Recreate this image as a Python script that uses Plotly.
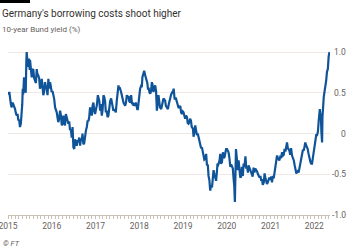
import plotly.graph_objects as go

dates_2015 = ["2015-01-02", "2015-01-07", "2015-01-12", "2015-01-18", "2015-01-25", "2015-02-01", "2015-02-07",
              "2015-02-14", "2015-02-21", "2015-03-01", "2015-03-08", "2015-03-15", "2015-03-22", "2015-03-28",
              "2015-04-04", "2015-04-11", "2015-04-18", "2015-04-26", "2015-04-30", "2015-05-04", "2015-05-08",
              "2015-05-15", "2015-05-23", "2015-05-29", "2015-06-03", "2015-06-06", "2015-06-10", "2015-06-15",
              "2015-06-20", "2015-06-26", "2015-07-01", "2015-07-04", "2015-07-10", "2015-07-18", "2015-07-24",
              "2015-07-31", "2015-08-07", "2015-08-15", "2015-08-22", "2015-08-29", "2015-09-05", "2015-09-11",
              "2015-09-18", "2015-09-25", "2015-10-02", "2015-10-10", "2015-10-16", "2015-10-23", "2015-10-30",
              "2015-11-06", "2015-11-13", "2015-11-20", "2015-11-27", "2015-12-04", "2015-12-11", "2015-12-18",
              "2015-12-24"]
yields_2015 = [0.51, 0.48, 0.51, 0.40, 0.36, 0.32, 0.38,
               0.36, 0.34, 0.30, 0.25, 0.22, 0.24, 0.16,
               0.17, 0.08, 0.12, 0.26, 0.36, 0.55, 0.48,
               0.69, 0.57, 0.50, 0.88, 1.00, 0.92, 0.82,
               0.83, 0.92, 0.78, 0.90, 0.78, 0.69, 0.78,
               0.79, 0.68, 0.63, 0.62, 0.79, 0.70, 0.71,
               0.68, 0.55, 0.58, 0.67, 0.55, 0.47, 0.52,
               0.63, 0.58, 0.55, 0.47, 0.67, 0.55, 0.63,
               0.58]

dates_2016 = ["2016-01-01", "2016-01-08", "2016-01-15", "2016-01-22", "2016-01-29", "2016-02-05", "2016-02-12",
              "2016-02-18", "2016-02-25", "2016-03-03", "2016-03-11", "2016-03-18", "2016-03-25", "2016-04-01",
              "2016-04-07", "2016-04-14", "2016-04-21", "2016-04-28", "2016-05-06", "2016-05-12", "2016-05-19",
              "2016-05-26", "2016-06-02", "2016-06-09", "2016-06-16", "2016-06-23", "2016-06-30", "2016-07-07",
              "2016-07-14", "2016-07-21", "2016-07-28", "2016-08-04", "2016-08-11", "2016-08-18", "2016-08-25",
              "2016-09-01", "2016-09-08", "2016-09-14", "2016-09-21", "2016-09-28", "2016-10-06", "2016-10-13",
              "2016-10-20", "2016-10-27", "2016-11-02", "2016-11-09", "2016-11-16", "2016-11-23", "2016-12-01",
              "2016-12-07", "2016-12-14", "2016-12-21", "2016-12-28"]
yields_2016 = [0.51, 0.52, 0.47, 0.42, 0.32, 0.30, 0.26,
               0.20, 0.14, 0.18, 0.28, 0.22, 0.10, 0.13,
               0.22, 0.12, 0.10, 0.24, 0.20, 0.14, 0.12,
               0.15, 0.04, 0.05, -0.05, 0.08, -0.17, -0.19,
               -0.07, -0.12, -0.15, -0.08, -0.09, -0.05, -0.15,
               -0.06, -0.09, 0.00, -0.13, -0.12, 0.00, 0.04,
               0.08, 0.16, 0.15, 0.20, 0.32, 0.24, 0.22,
               0.34, 0.38, 0.28, 0.24]

dates_2017 = ["2017-01-05", "2017-01-12", "2017-01-20", "2017-01-27", "2017-02-01", "2017-02-08", "2017-02-15",
              "2017-02-22", "2017-03-01", "2017-03-08", "2017-03-14", "2017-03-21", "2017-03-28", "2017-04-04",
              "2017-04-11", "2017-04-18", "2017-04-25", "2017-05-03", "2017-05-11", "2017-05-18", "2017-05-25",
              "2017-05-30", "2017-06-07", "2017-06-14", "2017-06-19", "2017-06-27", "2017-07-04", "2017-07-11",
              "2017-07-18", "2017-07-25", "2017-08-02", "2017-08-09", "2017-08-16", "2017-08-22", "2017-08-29",
              "2017-09-05", "2017-09-12", "2017-09-19", "2017-09-26", "2017-10-03", "2017-10-08", "2017-10-16",
              "2017-10-25", "2017-11-01", "2017-11-07", "2017-11-13", "2017-11-20", "2017-11-27", "2017-12-03",
              "2017-12-10", "2017-12-15", "2017-12-20", "2017-12-28"]
yields_2017 = [0.30, 0.35, 0.47, 0.44, 0.40, 0.28, 0.36,
               0.22, 0.30, 0.47, 0.45, 0.40, 0.26, 0.28,
               0.20, 0.22, 0.36, 0.40, 0.43, 0.36, 0.32,
               0.28, 0.30, 0.26, 0.26, 0.40, 0.50, 0.59,
               0.54, 0.55, 0.51, 0.44, 0.42, 0.38, 0.36,
               0.34, 0.38, 0.47, 0.45, 0.46, 0.40, 0.38,
               0.47, 0.36, 0.38, 0.34, 0.37, 0.34, 0.38,
               0.30, 0.30, 0.30, 0.42]

dates_2018 = ["2018-01-08", "2018-01-15", "2018-01-22", "2018-01-27", "2018-02-04", "2018-02-11", "2018-02-18",
              "2018-02-25", "2018-03-04", "2018-03-09", "2018-03-14", "2018-03-21", "2018-03-28", "2018-04-02",
              "2018-04-09", "2018-04-16", "2018-04-22", "2018-04-29", "2018-05-07", "2018-05-14", "2018-05-21",
              "2018-05-28", "2018-06-04", "2018-06-10", "2018-06-16", "2018-06-23", "2018-07-03", "2018-07-10",
              "2018-07-16", "2018-07-22", "2018-07-29", "2018-08-05", "2018-08-11", "2018-08-18", "2018-08-28",
              "2018-09-04", "2018-09-10", "2018-09-16", "2018-09-24", "2018-10-05", "2018-10-10", "2018-10-15",
              "2018-10-23", "2018-11-01", "2018-11-11", "2018-11-18", "2018-11-24", "2018-12-01", "2018-12-09",
              "2018-12-16", "2018-12-23", "2018-12-30"]
yields_2018 = [0.55, 0.58, 0.57, 0.69, 0.73, 0.77, 0.72,
               0.69, 0.65, 0.62, 0.55, 0.55, 0.50, 0.49,
               0.52, 0.63, 0.60, 0.51, 0.56, 0.59, 0.52,
               0.28, 0.38, 0.47, 0.40, 0.32, 0.30, 0.34,
               0.36, 0.43, 0.42, 0.40, 0.34, 0.32, 0.30,
               0.36, 0.40, 0.45, 0.48, 0.51, 0.52, 0.55,
               0.42, 0.44, 0.38, 0.36, 0.32, 0.32, 0.34,
               0.26, 0.24, 0.27]

dates_2019 = ["2019-01-05", "2019-01-12", "2019-01-19", "2019-01-26", "2019-02-03", "2019-02-09", "2019-02-16",
              "2019-02-23", "2019-03-01", "2019-03-08", "2019-03-15", "2019-03-25", "2019-03-30", "2019-04-06",
              "2019-04-13", "2019-04-20", "2019-04-27", "2019-05-04", "2019-05-11", "2019-05-18", "2019-05-25",
              "2019-06-01", "2019-06-08", "2019-06-15", "2019-06-21", "2019-06-28", "2019-07-06", "2019-07-13",
              "2019-07-20", "2019-07-27", "2019-08-02", "2019-08-09", "2019-08-16", "2019-08-23", "2019-08-31",
              "2019-09-07", "2019-09-13", "2019-09-20", "2019-09-27", "2019-10-04", "2019-10-09", "2019-10-16",
              "2019-10-23", "2019-11-02", "2019-11-08", "2019-11-14", "2019-11-22", "2019-11-30", "2019-12-06",
              "2019-12-14", "2019-12-20", "2019-12-27"]
yields_2019 = [0.26, 0.22, 0.18, 0.22, 0.20, 0.13, 0.12,
               0.14, 0.18, 0.16, 0.08, 0.06, -0.04, 0.02,
               0.10, 0.04, -0.02, 0.00, -0.05, -0.10, -0.15,
               -0.18, -0.17, -0.24, -0.29, -0.32, -0.31, -0.25,
               -0.39, -0.38, -0.52, -0.57, -0.70, -0.64, -0.66,
               -0.58, -0.45, -0.50, -0.54, -0.58, -0.50, -0.37,
               -0.38, -0.33, -0.25, -0.37, -0.35, -0.23, -0.30,
               -0.29, -0.24, -0.19]

dates_2020 = ["2020-01-03", "2020-01-10", "2020-01-16", "2020-01-23", "2020-01-31", "2020-02-07", "2020-02-14",
              "2020-02-21", "2020-02-27", "2020-03-04", "2020-03-09", "2020-03-13", "2020-03-18", "2020-03-25",
              "2020-04-01", "2020-04-09", "2020-04-16", "2020-04-23", "2020-04-30", "2020-05-07", "2020-05-14",
              "2020-05-21", "2020-05-28", "2020-06-05", "2020-06-12", "2020-06-19", "2020-06-26", "2020-07-01",
              "2020-07-08", "2020-07-14", "2020-07-21", "2020-07-28", "2020-08-04", "2020-08-12", "2020-08-19",
              "2020-08-26", "2020-09-04", "2020-09-11", "2020-09-18", "2020-09-23", "2020-10-01", "2020-10-08",
              "2020-10-15", "2020-10-21", "2020-10-28", "2020-11-05", "2020-11-12", "2020-11-19", "2020-11-26",
              "2020-12-02", "2020-12-09", "2020-12-15", "2020-12-21", "2020-12-28"]
yields_2020 = [-0.19, -0.22, -0.23, -0.30, -0.41, -0.38, -0.41,
               -0.43, -0.55, -0.65, -0.84, -0.55, -0.19, -0.30,
               -0.45, -0.33, -0.45, -0.54, -0.53, -0.41, -0.52,
               -0.37, -0.41, -0.28, -0.43, -0.41, -0.48, -0.39,
               -0.42, -0.46, -0.47, -0.50, -0.53, -0.42, -0.48,
               -0.43, -0.45, -0.47, -0.50, -0.52, -0.54, -0.52,
               -0.58, -0.56, -0.63, -0.60, -0.49, -0.55, -0.58,
               -0.62, -0.60, -0.58, -0.54, -0.57]

dates_2021 = ["2021-01-06", "2021-01-13", "2021-01-20", "2021-01-27", "2021-02-04", "2021-02-11", "2021-02-18",
              "2021-02-24", "2021-03-03", "2021-03-10", "2021-03-15", "2021-03-22", "2021-03-29", "2021-04-07",
              "2021-04-14", "2021-04-21", "2021-04-28", "2021-05-05", "2021-05-11", "2021-05-18", "2021-05-25",
              "2021-06-01", "2021-06-07", "2021-06-14", "2021-06-21", "2021-06-29", "2021-07-07", "2021-07-14",
              "2021-07-21", "2021-07-28", "2021-08-04", "2021-08-10", "2021-08-17", "2021-08-23", "2021-08-29",
              "2021-09-06", "2021-09-13", "2021-09-21", "2021-09-28", "2021-10-05", "2021-10-12", "2021-10-18",
              "2021-10-26", "2021-11-02", "2021-11-07", "2021-11-14", "2021-11-23", "2021-11-30", "2021-12-06",
              "2021-12-13", "2021-12-20", "2021-12-27"]
yields_2021 = [-0.53, -0.60, -0.52, -0.55, -0.47, -0.43, -0.35,
               -0.27, -0.30, -0.32, -0.33, -0.29, -0.30, -0.23,
               -0.27, -0.26, -0.19, -0.22, -0.13, -0.11, -0.18,
               -0.19, -0.21, -0.26, -0.18, -0.27, -0.30, -0.33,
               -0.39, -0.44, -0.49, -0.47, -0.46, -0.48, -0.43,
               -0.34, -0.31, -0.23, -0.20, -0.21, -0.12, -0.11,
               -0.15, -0.17, -0.19, -0.25, -0.33, -0.35, -0.37,
               -0.37, -0.30, -0.23]

dates_2022 = ["2022-01-03", "2022-01-10", "2022-01-17", "2022-01-24", "2022-01-31", "2022-02-07", "2022-02-10",
              "2022-02-16", "2022-02-21", "2022-02-25", "2022-03-01", "2022-03-07", "2022-03-10", "2022-03-14",
              "2022-03-21", "2022-03-27", "2022-04-04", "2022-04-10", "2022-04-17", "2022-04-24", "2022-05-01",
              "2022-05-08"]
yields_2022 = [-0.12, -0.07, -0.02, -0.02, 0.02, 0.16, 0.28,
               0.30, 0.23, 0.22, 0.02, -0.11, 0.20, 0.34,
               0.45, 0.51, 0.57, 0.65, 0.76, 0.79, 0.95,
               1.00]

y_tick_vals = [1.0, 0.5, 0, -0.5, -1.0]
y_tick_text = ["1.0", "0.5", "0", "-0.5", "-1.0"]

title = "Germany's borrowing costs shoot higher"
subtitle = "10-year Bund yield (%)"
source = "© FT"

dates = dates_2015 + dates_2016 + dates_2017 + dates_2018 + dates_2019 + dates_2020 + dates_2021 + dates_2022
yields = yields_2015 + yields_2016 + yields_2017 + yields_2018 + yields_2019 + yields_2020 + yields_2021 + yields_2022

W_PX, H_PX = 350, 250
L, R, T, B = 8, 20, 50, 35
PW, PH = W_PX - L - R, H_PX - T - B


def paper(xp, yp):
    return (xp - L) / PW, (H_PX - B - yp) / PH


fig = go.Figure()
fig.add_trace(go.Scatter(
    x=dates, y=yields, mode="lines",
    line=dict(color="#0f5499", width=2.2),
    hoverinfo="skip", showlegend=False,
))

font_family = "Roboto, Lato, sans-serif"
label_color = "#66605c"

fig.update_layout(
    width=W_PX, height=H_PX,
    margin=dict(l=L, r=R, t=T, b=B, pad=0),
    paper_bgcolor="white", plot_bgcolor="white",
    font=dict(family=font_family, color=label_color, size=9),
    xaxis=dict(
        type="date",
        range=["2015-01-01", "2022-05-12"],
        tick0="2015-01-01", dtick="M12", tickformat="%Y",
        ticks="outside", ticklen=3, tickcolor="#ccc1b7", tickwidth=1,
        minor=dict(dtick="M1", ticks="outside", ticklen=3, tickcolor="#ccc1b7", tickwidth=1, showgrid=False),
        showgrid=False, showline=True, linecolor="#ccc1b7", linewidth=1,
        tickfont=dict(size=8.5, color=label_color),
        ticklabeloverflow="allow",
        zeroline=False, automargin=False,
    ),
    yaxis=dict(
        side="right", range=[-1.0, 1.025],
        tickmode="array", tickvals=y_tick_vals,
        showgrid=True, gridcolor="#efe8e4", gridwidth=1,
        zeroline=False, ticks="", showline=False, showticklabels=False,
        automargin=False,
    ),
)

# right-hand value labels, right-aligned like the original
lab_x, _ = paper(348, 0)
for v, t in zip(y_tick_vals, y_tick_text):
    fig.add_annotation(text=t, x=lab_x, y=v, xref="paper", yref="y", xanchor="right", yanchor="middle",
                       showarrow=False, font=dict(size=8.5, color=label_color, family=font_family))

tx, ty = paper(0, 13)
sx, sy = paper(0, 29)
fx, fy = paper(1, 243)
fig.add_annotation(text=title, x=tx, y=ty, xref="paper", yref="paper", xanchor="left", yanchor="middle",
                   showarrow=False, font=dict(size=10, color="#33302e", family=font_family))
fig.add_annotation(text=subtitle, x=sx, y=sy, xref="paper", yref="paper", xanchor="left", yanchor="middle",
                   showarrow=False, font=dict(size=8, color=label_color, family=font_family))
fig.add_annotation(text="<i>" + source + "</i>", x=fx, y=fy, xref="paper", yref="paper", xanchor="left",
                   yanchor="middle", showarrow=False, font=dict(size=7.5, color=label_color, family=font_family))

bx0, by0 = paper(0, 3)
bx1, by1 = paper(30, 0)
fig.add_shape(type="rect", xref="paper", yref="paper", x0=bx0, x1=bx1, y0=by0, y1=by1,
              fillcolor="black", line=dict(width=0), layer="above")

fig.write_html("out.html")
